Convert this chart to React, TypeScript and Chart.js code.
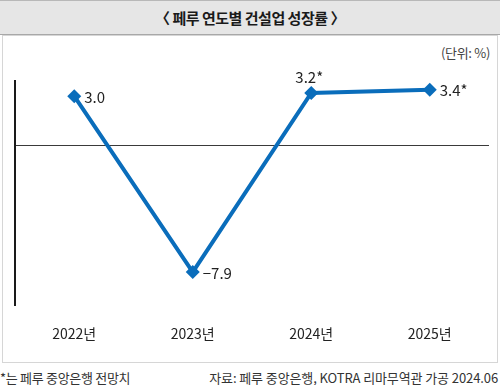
import React, { useEffect, useRef } from "react";
import { Chart, registerables } from "chart.js";

Chart.register(...registerables);

const categories = ["2022년", "2023년", "2024년", "2025년"];
const growthValues = [3.0, -7.9, 3.2, 3.4];
const valueLabels = ["3.0", "−7.9", "3.2*", "3.4*"];
const yMin = -10;
const yMax = 4;

const FONT = '"Noto Sans CJK KR", "Noto Sans", sans-serif';
const LINE_COLOR = "#0a6dbb";

const decorPlugin = {
  id: "decor",
  beforeDatasetsDraw(chart: any) {
    const { ctx, chartArea, scales } = chart;
    const y0 = Math.round(scales.y.getPixelForValue(0)) + 0.5;
    ctx.save();
    // zero line
    ctx.strokeStyle = "#3a3a3a";
    ctx.lineWidth = 1;
    ctx.beginPath();
    ctx.moveTo(chartArea.left, y0);
    ctx.lineTo(chartArea.right, y0);
    ctx.stroke();
    // vertical axis
    ctx.strokeStyle = "#1a1a1a";
    ctx.lineWidth = 2;
    ctx.beginPath();
    ctx.moveTo(chartArea.left, chartArea.top);
    ctx.lineTo(chartArea.left, chartArea.bottom);
    ctx.stroke();
    // category labels
    ctx.fillStyle = "#222";
    ctx.font = `14px ${FONT}`;
    ctx.textAlign = "center";
    ctx.textBaseline = "middle";
    categories.forEach((c, i) => {
      ctx.fillText(c, scales.x.getPixelForValue(i), chartArea.bottom + 28);
    });
    ctx.restore();
  },
  afterDatasetsDraw(chart: any) {
    const { ctx } = chart;
    const meta = chart.getDatasetMeta(0);
    ctx.save();
    ctx.fillStyle = "#222";
    ctx.font = `15px ${FONT}`;
    ctx.textBaseline = "middle";
    meta.data.forEach((pt: any, i: number) => {
      const label = valueLabels[i];
      if (i === 2) {
        ctx.textAlign = "center";
        ctx.fillText(label, pt.x - 2, pt.y - 16);
      } else {
        ctx.textAlign = "left";
        ctx.fillText(label, pt.x + 10, pt.y + 1);
      }
    });
    ctx.restore();
  },
};

function ChartCanvas() {
  const ref = useRef<HTMLCanvasElement | null>(null);
  useEffect(() => {
    if (!ref.current) return;
    const chart = new Chart(ref.current, {
      type: "line",
      data: {
        labels: categories,
        datasets: [
          {
            data: growthValues,
            borderColor: LINE_COLOR,
            backgroundColor: LINE_COLOR,
            borderWidth: 4,
            pointStyle: "rectRot",
            pointRadius: 7,
            pointBackgroundColor: LINE_COLOR,
            pointBorderWidth: 0,
            tension: 0,
            clip: false as any,
          },
        ],
      },
      options: {
        animation: false,
        responsive: false,
        maintainAspectRatio: false,
        layout: { padding: { left: 15, right: 11, top: 80, bottom: 79 } },
        plugins: {
          legend: { display: false },
          title: { display: false },
          tooltip: { enabled: false },
        },
        scales: {
          x: { display: false, offset: true },
          y: { display: false, min: yMin, max: yMax },
        },
      },
      plugins: [decorPlugin],
    });
    return () => chart.destroy();
  }, []);
  return (
    <canvas
      ref={ref}
      width={500}
      height={385}
      style={{ position: "absolute", left: 0, top: 0, width: 500, height: 385 }}
    />
  );
}

export default function App() {
  return (
    <div
      style={{
        position: "absolute",
        left: 0,
        top: 0,
        width: 500,
        height: 385,
        background: "#fff",
        fontFamily: FONT,
        overflow: "hidden",
      }}
    >
      <div
        style={{
          position: "absolute",
          left: 0,
          top: 0,
          width: 500,
          height: 33,
          background: "#e6e6e6",
          borderTop: "1px solid #b8b8b8",
          borderBottom: "1px solid #a8a8a8",
          display: "flex",
          alignItems: "center",
          justifyContent: "center",
          fontWeight: 700,
          fontSize: 15,
          color: "#1a1a1a",
          letterSpacing: -0.5,
        }}
      >
        〈 페루 연도별 건설업 성장률 〉
      </div>
      <div
        style={{
          position: "absolute",
          left: 2,
          top: 35,
          width: 494,
          height: 326,
          border: "1px solid #d6d6d6",
        }}
      />
      <div
        style={{
          position: "absolute",
          right: 10,
          top: 43,
          fontSize: 13,
          color: "#444",
          letterSpacing: -0.3,
        }}
      >
        (단위: %)
      </div>
      <div
        style={{
          position: "absolute",
          left: 0,
          top: 368,
          fontSize: 13,
          color: "#333",
          letterSpacing: -0.3,
          whiteSpace: "nowrap",
        }}
      >
        *는 페루 중앙은행 전망치
      </div>
      <div
        style={{
          position: "absolute",
          right: 2,
          top: 368,
          fontSize: 13,
          color: "#333",
          letterSpacing: -0.1,
          whiteSpace: "nowrap",
        }}
      >
        자료: 페루 중앙은행, KOTRA 리마무역관 가공 2024.06
      </div>
      <ChartCanvas />
    </div>
  );
}
